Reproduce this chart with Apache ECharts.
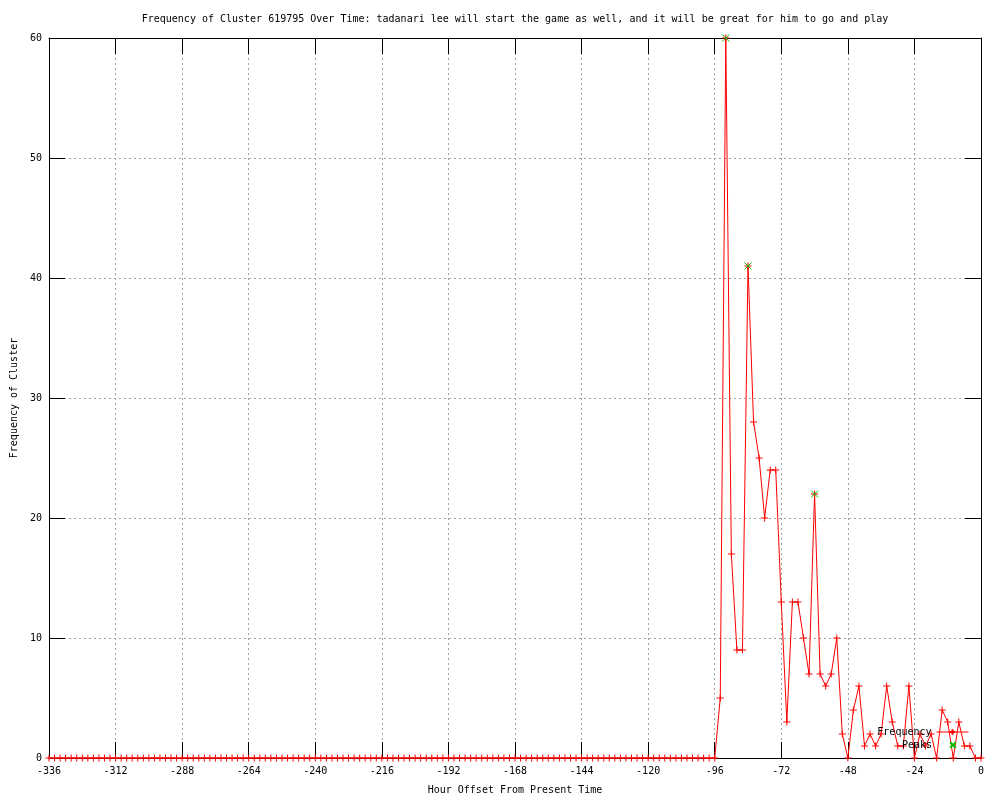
<!DOCTYPE html>
<html>
<head>
<meta charset="utf-8">
<script src="https://cdn.jsdelivr.net/npm/echarts@6/dist/echarts.min.js"></script>
<style>html,body{margin:0;padding:0;background:#fff}#c{width:1000px;height:800px}</style>
</head>
<body>
<div id="c"></div>
<script>
const titleText = 'Frequency of Cluster 619795 Over Time: tadanari lee will start the game as well, and it will be great for him to go and play';
const xName = 'Hour Offset From Present Time';
const yName = 'Frequency of Cluster';

const hours = [
-336,-334,-332,-330,-328,-326,-324,-322,-320,-318,-316,-314,-312,-310,-308,-306,-304,-302,-300,-298,
-296,-294,-292,-290,-288,-286,-284,-282,-280,-278,-276,-274,-272,-270,-268,-266,-264,-262,-260,-258,
-256,-254,-252,-250,-248,-246,-244,-242,-240,-238,-236,-234,-232,-230,-228,-226,-224,-222,-220,-218,
-216,-214,-212,-210,-208,-206,-204,-202,-200,-198,-196,-194,-192,-190,-188,-186,-184,-182,-180,-178,
-176,-174,-172,-170,-168,-166,-164,-162,-160,-158,-156,-154,-152,-150,-148,-146,-144,-142,-140,-138,
-136,-134,-132,-130,-128,-126,-124,-122,-120,-118,-116,-114,-112,-110,-108,-106,-104,-102,-100,-98,
-96,-94,-92,-90,-88,-86,-84,-82,-80,-78,-76,-74,-72,-70,-68,-66,-64,-62,-60,-58,
-56,-54,-52,-50,-48,-46,-44,-42,-40,-38,-36,-34,-32,-30,-28,-26,-24,-22,-20,-18,
-16,-14,-12,-10,-8,-6,-4,-2,0
];
const frequency = [
0,0,0,0,0,0,0,0,0,0,0,0,0,0,0,0,0,0,0,0,
0,0,0,0,0,0,0,0,0,0,0,0,0,0,0,0,0,0,0,0,
0,0,0,0,0,0,0,0,0,0,0,0,0,0,0,0,0,0,0,0,
0,0,0,0,0,0,0,0,0,0,0,0,0,0,0,0,0,0,0,0,
0,0,0,0,0,0,0,0,0,0,0,0,0,0,0,0,0,0,0,0,
0,0,0,0,0,0,0,0,0,0,0,0,0,0,0,0,0,0,0,0,
0,5,60,17,9,9,41,28,25,20,24,24,13,3,13,13,10,7,22,7,
6,7,10,2,0,4,6,1,2,1,2,6,3,1,1,6,0,2,1,2,
0,4,3,0,3,1,1,0,0
];
const peakHours = [-92, -84, -60];
const peakValues = [60, 41, 22];

const xTicks = {min: -336, max: 0, interval: 24};
const yTicks = {min: 0, max: 60, interval: 10};

const FONT = 'DejaVu Sans Mono';
const FS = 10;
const plusPath = 'path://M0,5L10,5M5,0L5,10';
const xPath = 'path://M0,0L10,10M10,0L0,10';

const chart = echarts.init(document.getElementById('c'), null, {renderer: 'canvas'});
const axisTxt = {color: '#000', fontFamily: FONT, fontSize: FS};
const tickStyle = {inside: true, length: 16, lineStyle: {color: '#000', width: 1}};
const lineStyleAx = {onZero: false, show: true, lineStyle: {color: '#000', width: 1}};
const gridLine = {show: true, lineStyle: {color: '#a0a0a0', type: [2, 3], width: 1}};

chart.setOption({
  animation: false,
  backgroundColor: '#fff',
  title: {
    text: titleText, left: 515, top: 14, textAlign: 'center', padding: 0,
    textStyle: {color: '#000', fontFamily: FONT, fontSize: FS, fontWeight: 'normal'}
  },
  grid: {left: 49, top: 38, width: 932, height: 722, show: false},
  legend: [
    {data: ['Frequency'], right: 31, top: 727, padding: 0, itemWidth: 32, itemHeight: 7, align: 'right',
     lineStyle: {width: 1}, textStyle: axisTxt, selectedMode: false},
    {data: ['Peaks'], right: 31, top: 740, padding: 0, itemWidth: 32, itemHeight: 7, align: 'right',
     textStyle: axisTxt, selectedMode: false}
  ],
  xAxis: [
    {type: 'value', min: xTicks.min, max: xTicks.max, interval: xTicks.interval, position: 'bottom',
     name: xName, nameLocation: 'middle', nameGap: 27, nameTextStyle: axisTxt,
     axisLine: lineStyleAx, axisTick: tickStyle,
     axisLabel: Object.assign({margin: 8}, axisTxt),
     splitLine: gridLine},
    {type: 'value', min: xTicks.min, max: xTicks.max, interval: xTicks.interval, position: 'top',
     axisLine: lineStyleAx, axisTick: tickStyle,
     axisLabel: {show: false}, splitLine: {show: false}}
  ],
  yAxis: [
    {type: 'value', min: yTicks.min, max: yTicks.max, interval: yTicks.interval, position: 'left',
     name: yName, nameLocation: 'middle', nameGap: 29, nameTextStyle: axisTxt,
     axisLine: lineStyleAx, axisTick: tickStyle,
     axisLabel: Object.assign({margin: 7}, axisTxt),
     splitLine: gridLine},
    {type: 'value', min: yTicks.min, max: yTicks.max, interval: yTicks.interval, position: 'right',
     axisLine: lineStyleAx, axisTick: tickStyle,
     axisLabel: {show: false}, splitLine: {show: false}}
  ],
  series: [
    {name: 'Frequency', type: 'line', xAxisIndex: 0, yAxisIndex: 0,
     data: hours.map((h, i) => [h, frequency[i]]),
     showSymbol: true, showAllSymbol: true, symbol: plusPath, symbolSize: 7, clip: false,
     lineStyle: {color: '#ff0000', width: 1},
     itemStyle: {color: '#ff0000', borderColor: '#ff0000', borderWidth: 1},
     emphasis: {disabled: true}, z: 3},
    {name: 'Peaks', type: 'line', xAxisIndex: 0, yAxisIndex: 0,
     data: peakHours.map((h, i) => [h, peakValues[i]]),
     showSymbol: true, showAllSymbol: true, symbol: xPath, symbolSize: 7, clip: false,
     lineStyle: {color: '#00c000', width: 0, opacity: 0},
     itemStyle: {color: '#00c000', borderColor: '#00c000', borderWidth: 1},
     emphasis: {disabled: true}, z: 4}
  ]
});
</script>
</body>
</html>
